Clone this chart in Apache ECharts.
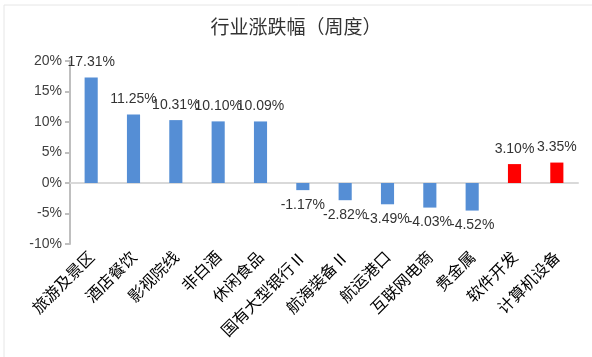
<!DOCTYPE html>
<html><head><meta charset="utf-8">
<script src="https://cdn.jsdelivr.net/npm/echarts@6/dist/echarts.min.js"></script>
<style>html,body{margin:0;padding:0;background:#fff;}#c{width:592px;height:357px;}</style>
</head><body><div id="c"></div>
<script>
const categories = ['旅游及景区','酒店餐饮','影视院线','非白酒','休闲食品','国有大型银行Ⅱ','航海装备Ⅱ','航运港口','互联网电商','贵金属','软件开发','计算机设备'];
const values = [17.31, 11.25, 10.31, 10.10, 10.09, -1.17, -2.82, -3.49, -4.03, -4.52, 3.10, 3.35];
const highlighted = ['软件开发','计算机设备'];
const yTicks = {min: -10, max: 20, interval: 5};

const FONT = '"Liberation Sans", "Noto Sans CJK SC", sans-serif';
const chart = echarts.init(document.getElementById('c'));
chart.setOption({
  animation: false,
  backgroundColor: '#fff',
  title: {text: '行业涨跌幅（周度）', left: 'center', top: 12,
    textStyle: {fontFamily: '"Noto Sans CJK SC", sans-serif', fontSize: 19, fontWeight: 'normal', color: '#333'}},
  graphic: [{type: 'rect', shape: {x: 4, y: 5, width: 600, height: 400},
    style: {fill: 'none', stroke: '#e6e6e6', lineWidth: 1}, silent: true}],
  grid: {left: 70, right: 14, top: 61, bottom: 113},
  xAxis: [{
    type: 'category', data: categories, position: 'bottom',
    axisLine: {show: false, onZero: false}, axisTick: {show: false},
    axisLabel: {rotate: 45, interval: 0, margin: 10, color: '#000',
      fontFamily: '"Noto Sans CJK SC", sans-serif', fontSize: 16}
  }, {
    type: 'category', data: categories,
    axisLine: {show: true, onZero: true, lineStyle: {color: '#d9d9d9', width: 2}},
    axisTick: {show: false}, axisLabel: {show: false}
  }],
  yAxis: {
    type: 'value', min: yTicks.min, max: yTicks.max, interval: yTicks.interval,
    axisLine: {show: true, lineStyle: {color: '#bfbfbf', width: 2}},
    axisTick: {show: true, length: 5, lineStyle: {color: '#bfbfbf', width: 2}},
    splitLine: {show: false},
    axisLabel: {formatter: '{value}%', color: '#404040', fontFamily: FONT, fontSize: 14, margin: 8}
  },
  series: [{
    type: 'bar', barWidth: '31%',
    data: values.map((v, i) => ({value: v,
      itemStyle: {color: highlighted.includes(categories[i]) ? '#ff0000' : '#558ed5'},
      label: {position: v >= 0 ? 'top' : 'bottom'}})),
    label: {show: true, formatter: p => p.value.toFixed(2) + '%', distance: 8,
      color: '#333', fontFamily: FONT, fontSize: 14}
  }]
});
</script></body></html>
